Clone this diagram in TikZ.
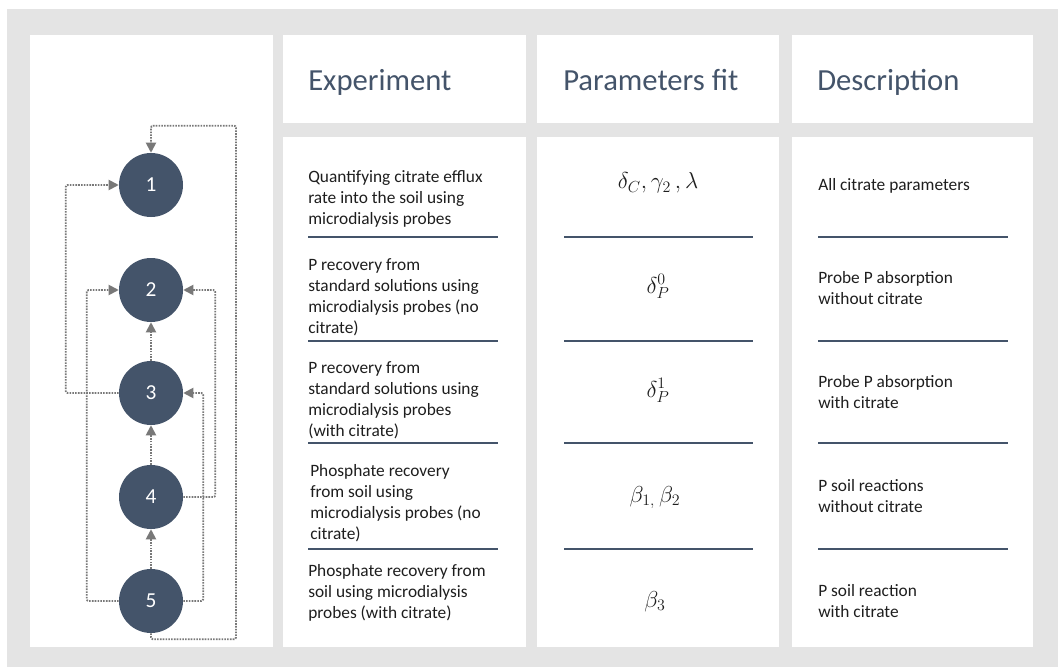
\documentclass[tikz,border=0pt]{standalone}
\usepackage{fontspec}
\setmainfont{Carlito}
\usetikzlibrary{arrows.meta,calc}
\definecolor{bgc}{RGB}{228,228,228}
\definecolor{navy}{RGB}{68,84,106}
\definecolor{conc}{RGB}{120,120,120}
\definecolor{txt}{RGB}{30,30,30}
\begin{document}
\begin{tikzpicture}[x=0.75pt,y=-0.75pt,
  panel/.style={fill=white,draw=none},
  stepcircle/.style={circle,fill=navy,minimum size=48pt,inner sep=0pt,text=white,font=\fontsize{16}{19}\selectfont},
  conn/.style={draw=conc,line width=1.4pt,dash pattern=on 1.2pt off 0.9pt,rounded corners=1.5pt,-{Triangle[length=7.5pt,width=7.5pt,fill=conc]}},
  header/.style={anchor=base west,inner sep=0pt,text=navy,font=\fontsize{23}{27}\selectfont},
  cell/.style={anchor=north west,inner sep=0pt,align=left,text=txt,font=\fontsize{13}{15.75}\selectfont},
  mathcell/.style={anchor=base,inner sep=0pt,text=txt,font=\fontsize{17}{20}\selectfont},
  divider/.style={draw=navy,line width=1.5pt}
]
\useasboundingbox (0,0) rectangle (1058,667);
\fill[white] (0,0) rectangle (1058,667);
\fill[bgc] (7,9) rectangle (1058,667);
% panels
\fill[panel] (30,35) rectangle (273,647);
\fill[panel] (283,35) rectangle (526,123);
\fill[panel] (537,35) rectangle (779,123);
\fill[panel] (792,35) rectangle (1033,123);
\fill[panel] (283,137) rectangle (526,647);
\fill[panel] (537,137) rectangle (779,647);
\fill[panel] (792,137) rectangle (1033,647);
% headers
\node[header] (hexp) at (308,91) {Experiment};
\node[header] (hpar) at (563,91) {Parameters fit};
\node[header] (hdes) at (817,91) {Description};
% circles
\node[stepcircle] (c1) at (151,185) {1};
\node[stepcircle] (c2) at (151,290) {2};
\node[stepcircle] (c3) at (151,393) {3};
\node[stepcircle] (c4) at (151,497) {4};
\node[stepcircle] (c5) at (151,601) {5};
% connectors
\draw[conn] (c5) -- (c4);
\draw[conn] (c4) -- (c3);
\draw[conn] (c3) -- (c2);
\draw[conn] (c3.west) -- ++(-53,0) |- (c1.west);
\draw[conn] (c5.west) -- ++(-32,0) |- (c2.west);
\draw[conn] (c4.east) -- ++(32,0) |- (c2.east);
\draw[conn] (c5.east) -- ++(20,0) |- (c3.east);
\draw[conn] (c5.south) -- ++(0,6) -| ($(c1.north)+(85,-27)$) -| (c1.north);
% experiment column
\node[cell] (e1) at (308,167.3) {\strut Quantifying citrate efflux\\rate into the soil using\\microdialysis probes};
\node[cell] (e2) at (308,255.3) {\strut P recovery from\\standard solutions using\\microdialysis probes (no\\citrate)};
\node[cell] (e3) at (308,358.3) {\strut P recovery from\\standard solutions using\\microdialysis probes\\(with citrate)};
\node[cell] (e4) at (310,461.3) {\strut Phosphate recovery\\from soil using\\microdialysis probes (no\\citrate)};
\node[cell] (e5) at (308,562) {\strut Phosphate recovery from\\soil using microdialysis\\probes (with citrate)};
% parameters column
\node[mathcell] (p1) at (658,189) {$\delta_C,\gamma_2\,,\lambda$};
\node[mathcell] (p2) at (658,293) {$\delta_P^0$};
\node[mathcell] (p3) at (658,397) {$\delta_P^1$};
\node[mathcell] (p4) at (655,502) {$\beta_{1,}\,\beta_2$};
\node[mathcell] (p5) at (655,607) {$\beta_3$};
% description column
\node[cell] (d1) at (818,175.3) {\strut All citrate parameters};
\node[cell] (d2) at (818,268.6) {\strut Probe P absorption\\without citrate};
\node[cell] (d3) at (818,373) {\strut Probe P absorption\\with citrate};
\node[cell] (d4) at (818,477) {\strut P soil reactions\\without citrate};
\node[cell] (d5) at (818,582) {\strut P soil reaction\\with citrate};
% dividers
\foreach \yy in {237,341,443,549} {
  \draw[divider] (308,\yy) -- (498,\yy);
  \draw[divider] (564,\yy) -- (753,\yy);
  \draw[divider] (818,\yy) -- (1008,\yy);
}
\end{tikzpicture}
\end{document}
